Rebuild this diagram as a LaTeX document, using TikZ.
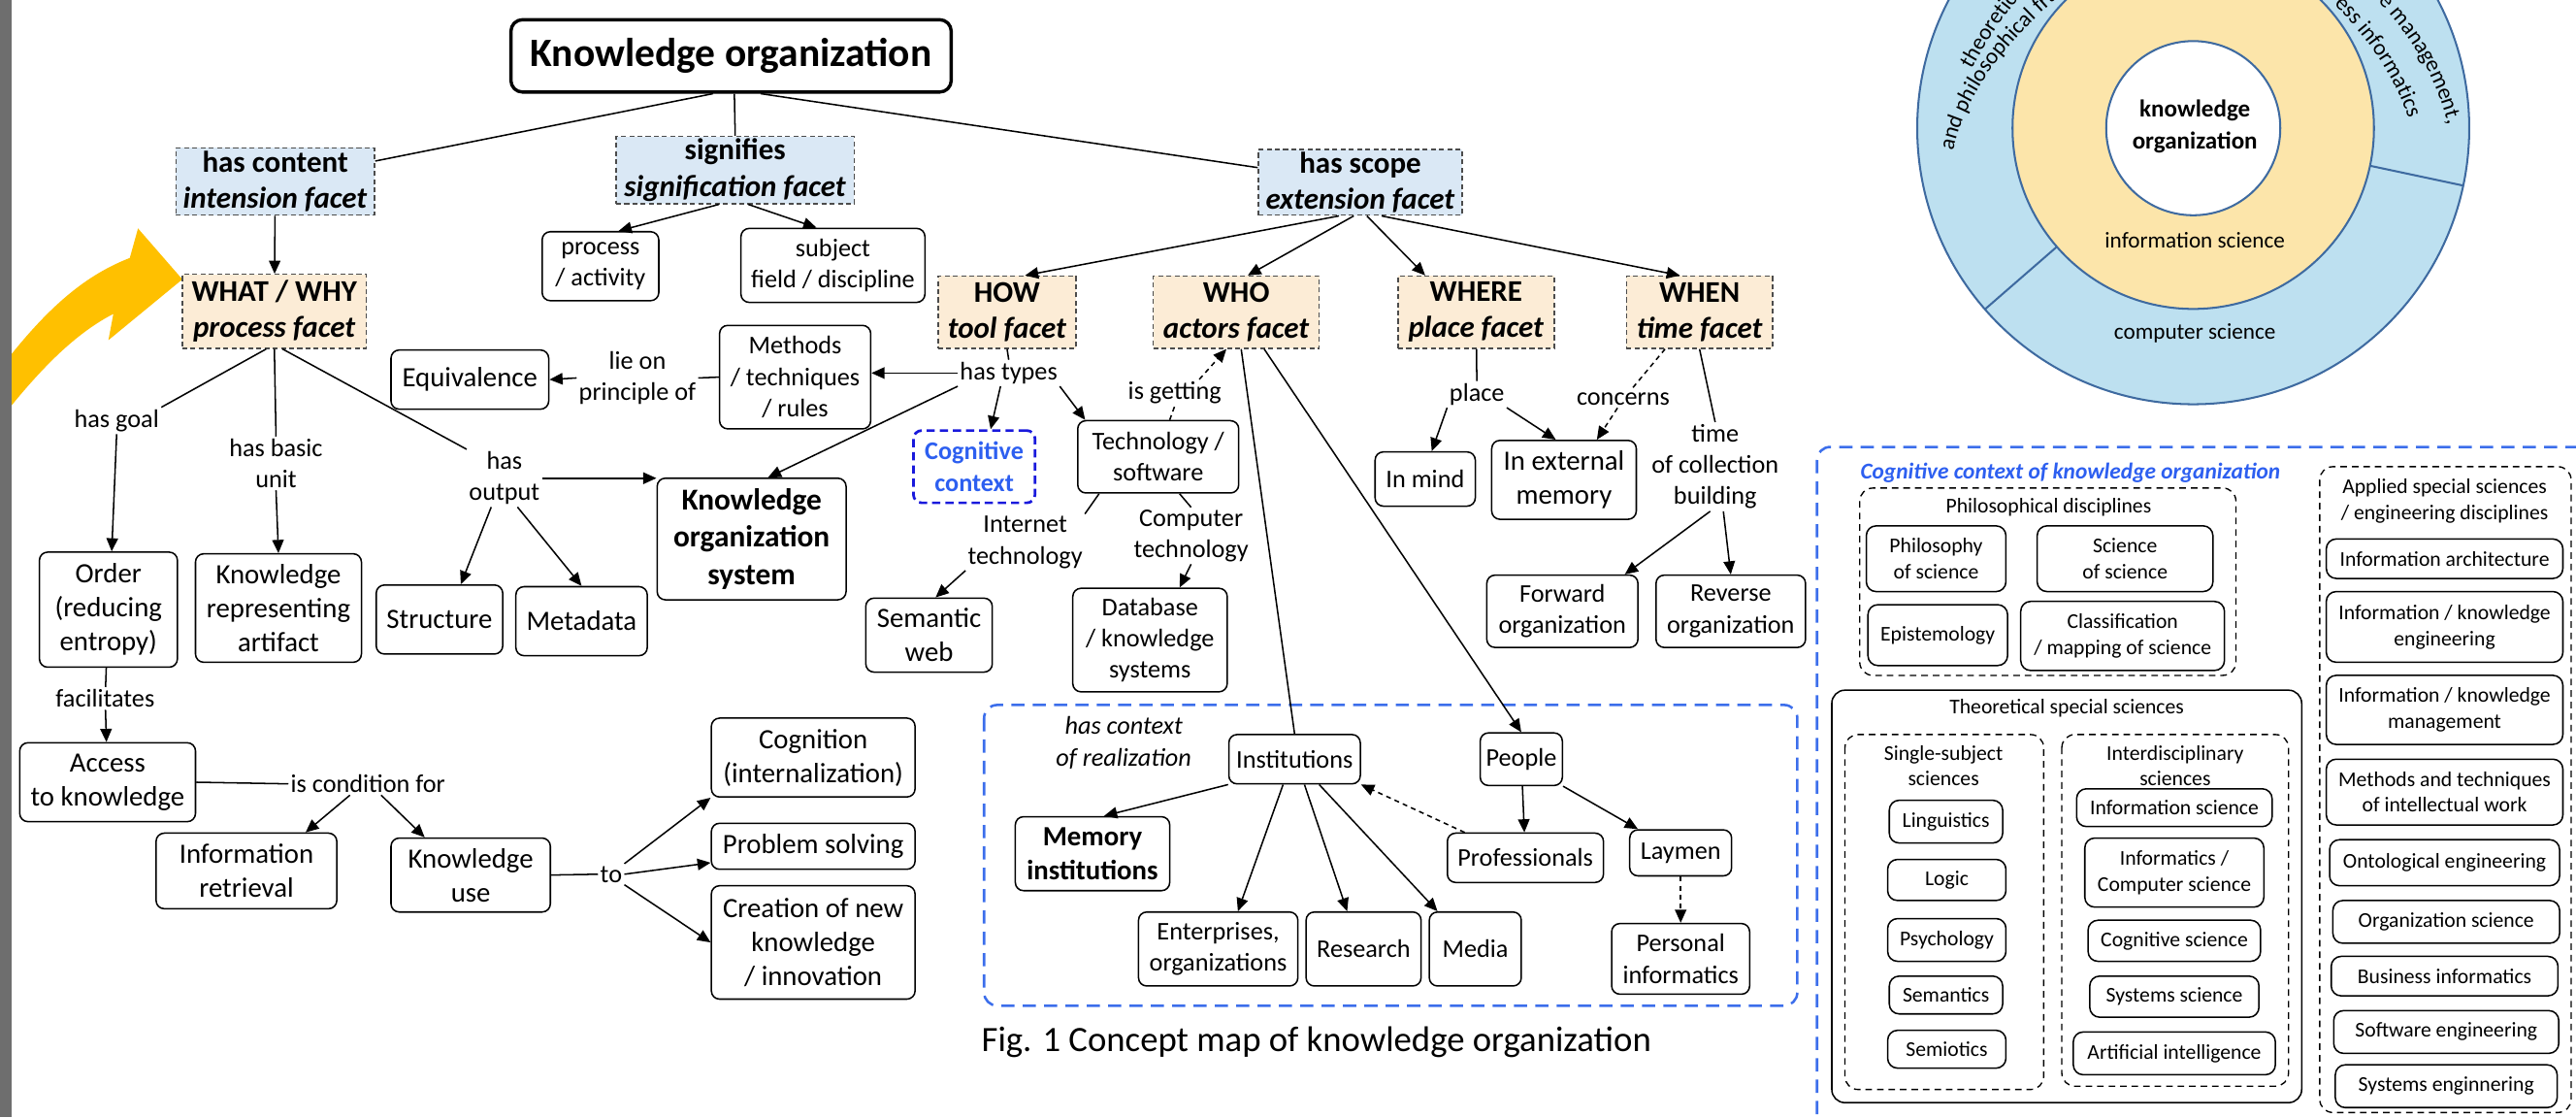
\documentclass[tikz,border=0pt]{standalone}
\usepackage{fontspec}
\setmainfont{Carlito}
\usetikzlibrary{arrows.meta,decorations.text}

\definecolor{facetblue}{RGB}{218,232,245}
\definecolor{facetorange}{RGB}{252,236,214}
\definecolor{ctxblue}{RGB}{60,110,235}
\definecolor{cogborder}{RGB}{25,25,220}
\definecolor{cogtext}{RGB}{45,95,240}
\definecolor{ringblue}{RGB}{189,224,240}
\definecolor{ringyellow}{RGB}{252,229,170}
\definecolor{ringedge}{RGB}{62,106,160}
\definecolor{arrowgold}{RGB}{255,192,0}
\definecolor{stripgray}{RGB}{110,110,110}

\newcommand{\fbody}{\fontsize{17}{20.7}\selectfont}
\newcommand{\fsmall}{\fontsize{15.5}{19}\selectfont}
\newcommand{\flab}{\fontsize{15.5}{19}\selectfont}
\newcommand{\ffacet}{\fontsize{18.3}{22}\selectfont}
\newcommand{\ftitle}{\fontsize{24.5}{29}\selectfont}
\newcommand{\fkos}{\fontsize{18.5}{22.6}\selectfont}
\newcommand{\fcap}{\fontsize{21.7}{26}\selectfont}
\newcommand{\fright}{\fontsize{12.8}{15.8}\selectfont}
\newcommand{\frtitle}{\fontsize{13.8}{16}\selectfont}
\newcommand{\fcirc}{\fontsize{14.8}{19.7}\selectfont}
\newcommand{\fring}{\fontsize{13.7}{16}\selectfont}

\tikzset{
  box/.style={draw, rounded corners=5pt, align=center, inner sep=1pt, font=\fsmall},
  facet/.style={draw=black!70, dash pattern=on 3pt off 2pt, line width=0.8pt, align=center, inner sep=0pt, font=\ffacet\bfseries},
  lab/.style={align=center, inner sep=1pt, font=\flab},
  wh/.style 2 args={minimum width=#1pt, minimum height=#2pt},
  bluedash/.style={draw=ctxblue, dash pattern=on 8pt off 5pt, line width=1.5pt, rounded corners=8pt},
  grpdash/.style={draw, dash pattern=on 4pt off 3pt, line width=0.8pt, rounded corners=8pt},
  rbox/.style={draw, rounded corners=6pt, align=center, inner sep=1pt, font=\fright},
  grplab/.style={align=center, inner sep=0pt, font=\fright},
  dashedarr/.style={->, dash pattern=on 3pt off 2.5pt}
}

\begin{document}
\begin{tikzpicture}[x=1pt, y=-1pt, line width=0.9pt, >={Triangle[length=8pt,width=7pt]}]
  \useasboundingbox (0,0) rectangle (1568,680);
  \clip (0,0) rectangle (1568,680);

  % pointer on the left edge
  \fill[arrowgold] (111,170) -- (84,139) -- (79,157) .. controls (45,170) and (18,198) .. (-15,245)
    -- (-15,275) .. controls (15,235) and (40,206) .. (69,191) -- (66,207) -- cycle;
  \fill[stripgray] (0,0) rectangle (7,680);

  % top level
  \node[box, wh={268}{44}, line width=2pt, rounded corners=7pt, font=\ftitle\bfseries] (ko) at (445,34) {Knowledge organization};
  \node[facet, fill=facetblue, wh={121}{41}] (content) at (167.5,110.5) {has content\\\textit{intension facet}};
  \node[facet, fill=facetblue, wh={145}{41}] (signif) at (447.5,103.5) {signifies\\\textit{signification facet}};
  \node[facet, fill=facetblue, wh={124}{40}] (scope) at (828,111) {has scope\\\textit{extension facet}};
  \node[box, wh={71}{42}] (process) at (365.5,162) {process\\/ activity};
  \node[box, wh={112}{45}] (subject) at (507,161.5) {subject\\field / discipline};
  \node[facet, fill=facetorange, wh={112}{45}] (what) at (167,189.5) {WHAT / WHY\\\textit{process facet}};
  \node[facet, fill=facetorange, wh={84}{44}] (how) at (613,190) {HOW\\\textit{tool facet}};
  \node[facet, fill=facetorange, wh={101}{44}] (who) at (752.5,190) {WHO\\\textit{actors facet}};
  \node[facet, fill=facetorange, wh={95}{44}] (where) at (898.5,190) {WHERE\\\textit{place facet}};
  \node[facet, fill=facetorange, wh={89}{44}] (when) at (1034.5,190) {WHEN\\\textit{time facet}};

  % process facet
  \node[box, wh={96}{36}, font=\fbody] (equiv) at (286,231) {Equivalence};
  \node[box, wh={92}{63}] (methods) at (484,229.5) {Methods\\/ techniques\\/ rules};
  \node[lab] (lieon) at (388,230) {lie on\\principle of};
  \node[lab] (goal) at (71,256) {has goal};
  \node[lab] (basic) at (168,282) {has basic\\unit};
  \node[lab] (output) at (307,291) {has\\output};
  \node[box, wh={84}{70}, font=\fbody] (order) at (66,371) {Order\\(reducing\\entropy)};
  \node[box, wh={101}{66}, font=\fbody] (artifact) at (169.5,370) {Knowledge\\representing\\artifact};
  \node[box, wh={77}{42}, font=\fbody] (structure) at (267.5,377) {Structure};
  \node[box, wh={80}{42}, font=\fbody] (metadata) at (354,378) {Metadata};
  \node[box, wh={115}{74}, font=\fkos\bfseries] (kos) at (457.5,328) {Knowledge\\organization\\system};
  \node[lab] (facil) at (64,425) {facilitates};
  \node[box, wh={107}{48}, font=\fbody] (access) at (65.5,476) {Access\\to knowledge};
  \node[lab] (cond) at (224,477) {is condition for};
  \node[box, wh={110}{46}, font=\fbody] (retrieval) at (150,530) {Information\\retrieval};
  \node[box, wh={97}{45}, font=\fbody] (use) at (286.5,532.5) {Knowledge\\use};
  \node[lab] (to) at (372,532) {to};
  \node[box, wh={124}{48}, font=\fbody] (cognition) at (495,461) {Cognition\\(internalization)};
  \node[box, wh={124}{28}, font=\fbody] (problem) at (495,515) {Problem solving};
  \node[box, wh={124}{69}, font=\fbody] (creation) at (495,573.5) {Creation of new\\knowledge\\/ innovation};

  % tool, place and time facets
  \node[lab] (types) at (614,227) {has types};
  \node[box, wh={74}{44}, draw=cogborder, text=cogtext, dash pattern=on 5pt off 3pt, line width=1.6pt, font=\fsmall\bfseries] (cogctx) at (593,284) {Cognitive\\context};
  \node[box, wh={98}{44}] (tech) at (705,278) {Technology /\\software};
  \node[lab] (getting) at (715,239) {is getting};
  \node[lab] (internet) at (624,330) {Internet\\technology};
  \node[lab] (computer) at (725,326) {Computer\\technology};
  \node[box, wh={77}{45}, font=\fbody] (semweb) at (565.5,386.5) {Semantic\\web};
  \node[box, wh={94}{63}] (database) at (700,389.5) {Database\\/ knowledge\\systems};
  \node[lab] (place) at (899,240) {place};
  \node[lab] (concerns) at (988,243) {concerns};
  \node[lab] (timelab) at (1044,284) {time\\of collection\\building};
  \node[box, wh={61}{33}] (mind) at (867.5,291.5) {In mind};
  \node[box, wh={88}{48}, font=\fbody] (external) at (952,292) {In external\\memory};
  \node[box, wh={92}{44}] (forward) at (951,372) {Forward\\organization};
  \node[box, wh={91}{44}] (reverse) at (1053.5,372) {Reverse\\organization};

  % actors in their context
  \draw[bluedash] (599,429) rectangle (1094,612);
  \node[lab, font=\flab\itshape] (realization) at (684,452) {has context\\of realization};
  \node[box, wh={80}{30}] (inst) at (788,462) {Institutions};
  \node[box, wh={50}{32}] (people) at (926,462) {People};
  \node[box, wh={94}{45}, font=\fbody\bfseries] (memory) at (665,519.5) {Memory\\institutions};
  \node[box, wh={97}{45}] (enterprises) at (741.5,577.5) {Enterprises,\\organizations};
  \node[box, wh={70}{45}] (research) at (830,577.5) {Research};
  \node[box, wh={56}{45}] (media) at (898,577.5) {Media};
  \node[box, wh={95}{30}] (professionals) at (928.5,522) {Professionals};
  \node[box, wh={62}{28}] (laymen) at (1023,519) {Laymen};
  \node[box, wh={84}{43}] (personal) at (1023,583.5) {Personal\\informatics};
  \node[anchor=west, inner sep=0pt, font=\fcap] (caption) at (597,634) {Fig. 1 Concept map of knowledge organization};

  % connectors
  \draw ([xshift=-11pt]ko.south) -- ([yshift=12.5pt]content.east);
  \draw ([xshift=2pt]ko.south) -- (signif.north);
  \draw ([xshift=18pt]ko.south) -- ([yshift=9pt]scope.west);
  \draw[->] ([xshift=-10pt]signif.south) -- ([xshift=11pt]process.north);
  \draw[->] ([xshift=8pt]signif.south) -- ([xshift=-10pt]subject.north);
  \draw[->] (content) -- (what);
  \draw[->] ([xshift=-13pt]scope.south) -- ([xshift=11pt]how.north);
  \draw[->] ([xshift=-4pt]scope.south) -- ([xshift=7pt]who.north);
  \draw[->] ([xshift=4pt]scope.south) -- ([xshift=-31pt]where.north);
  \draw[->] ([xshift=13pt]scope.south) -- ([xshift=-12pt]when.north);

  \draw ([xshift=-5pt]what.south) -- (goal.north east);
  \draw[->] (goal.south) -- ([xshift=2pt]order.north);
  \draw (what.south) -- (basic.north);
  \draw[->] (basic.south) -- (artifact.north);
  \draw ([xshift=5pt]what.south) -- (output.north west);
  \draw[->] (output.east) -- (output.east -| kos.west);
  \draw[->] ([xshift=-8pt]output.south) -- ([xshift=13pt]structure.north);
  \draw[->] ([xshift=8pt]output.south) -- (metadata.north);
  \draw (order) -- (facil);
  \draw[->] (facil) -- (access);
  \draw (access.east) -- (cond.west);
  \draw[->] ([xshift=-11pt]cond.south) -- ([xshift=36pt]retrieval.north);
  \draw[->] ([xshift=8pt]cond.south) -- ([xshift=-28pt]use.north);
  \draw (use.east) -- (to.west);
  \draw[->] (to.north east) -- (cognition.south west);
  \draw[->] (to.east) -- ([yshift=-10pt]problem.west);
  \draw[->] (to.south east) -- (creation.west);

  \draw (methods.west) -- (lieon.east);
  \draw[->] (lieon.west) -- (equiv.east);
  \draw (how.south) -- (types.north);
  \draw[->] (types.west) -- (types.west -| methods.east);
  \draw[->] (types.south west) -- ([xshift=10pt]kos.north);
  \draw[->] ([xshift=-5pt]types.south) -- ([xshift=10pt]cogctx.north);
  \draw[->] (types.south east) -- ([xshift=5pt]tech.north west);
  \draw[dash pattern=on 3pt off 2.5pt] ([xshift=7pt]tech.north) -- (getting.south);
  \draw[dashedarr] ([xshift=15pt]getting.north) -- ([xshift=-6pt]who.south);
  \draw ([xshift=-36pt]tech.south) -- (internet.north east);
  \draw[->] (internet.south west) -- ([xshift=4pt]semweb.north);
  \draw ([xshift=13pt]tech.south) -- (computer.north);
  \draw[->] (computer.south) -- ([xshift=18pt]database.north);
  \draw ([xshift=3pt]who.south) -- (inst.north);
  \draw[->] ([xshift=17pt]who.south) -- (people.north);
  \draw (where) -- (place);
  \draw[->] (place.south west) -- ([xshift=4pt]mind.north);
  \draw[->] (place.south east) -- ([xshift=-5pt]external.north);
  \draw[dash pattern=on 3pt off 2.5pt] ([xshift=-21pt]when.south) -- (concerns);
  \draw[dashedarr] (concerns) -- ([xshift=20pt]external.north);
  \draw (when.south) -- (timelab.north);
  \draw[->] ([xshift=-3pt]timelab.south) -- ([xshift=38pt]forward.north);
  \draw[->] ([xshift=5pt]timelab.south) -- (reverse.north);

  \draw[->] (inst.south west) -- ([xshift=7pt]memory.north);
  \draw[->] ([xshift=-7pt]inst.south) -- ([xshift=12pt]enterprises.north);
  \draw[->] ([xshift=6pt]inst.south) -- ([xshift=-10pt]research.north);
  \draw[->] ([xshift=15pt]inst.south) -- ([xshift=-23pt]media.north);
  \draw[dashedarr] ([xshift=-37pt]professionals.north) -- (inst.south east);
  \draw[->] (people) -- (professionals);
  \draw[->] (people.south east) -- ([xshift=-26pt]laymen.north);
  \draw[dashedarr] (laymen) -- (personal);

  % rings
  \begin{scope}[shift={(1335,78)}, y=1pt, ringedge, line width=1.2pt]
    \draw[fill=ringblue] (0,0) circle[radius=168];
    \draw (-12:110) -- (-12:168);
    \draw (221:110) -- (221:168);
    \draw[fill=ringyellow] (0,0) circle[radius=110];
    \draw[fill=white] (0,0) circle[radius=53];
  \end{scope}
  \node[font=\fcirc\bfseries, align=center, inner sep=0pt] (kocore) at (1336,77) {knowledge\\organization};
  \node[font=\fring, inner sep=0pt] (infosci) at (1336,146) {information science};
  \node[font=\fring, inner sep=0pt] (compsci) at (1336,203) {computer science};
  \path[decorate, decoration={text along path, text={|\fring|theoretic}, text align=left}]
    (1200,42) .. controls (1208,28) and (1218,10) .. (1240,-14);
  \path[decorate, decoration={text along path, text={|\fring|and philosophical fra}, text align=left}]
    (1189,92) .. controls (1195,60) and (1220,25) .. (1258,-6);
  \path[decorate, decoration={text along path, text={|\fring|e management,}, text align=right}]
    (1425,-20) .. controls (1455,5) and (1480,35) .. (1490,76);
  \path[decorate, decoration={text along path, text={|\fring|ess informatics}, text align=right}]
    (1390,-25) .. controls (1420,0) and (1452,30) .. (1466,72);

  % cognitive context panel
  \draw[bluedash] (1106,272) rectangle (1640,720);
  \node[anchor=west, inner sep=0pt, text=cogtext, font=\frtitle\bfseries\itshape] (cogtitle) at (1132,288) {Cognitive context of knowledge organization};
  \draw[grpdash] (1132,297) rectangle (1361,411);
  \node[grplab] (phillab) at (1247,309) {Philosophical disciplines};
  \node[rbox, wh={85}{40}] (philsci) at (1178.5,340) {Philosophy\\of science};
  \node[rbox, wh={107}{40}] (scisci) at (1293.5,340) {Science\\of science};
  \node[rbox, wh={85}{37}] (episte) at (1179.5,386.5) {Epistemology};
  \node[rbox, wh={124}{42}] (classif) at (1292,387) {Classification\\/ mapping of science};
  \draw[rounded corners=8pt] (1115,420) rectangle (1401,671);
  \node[grplab] (theolab) at (1258,431) {Theoretical special sciences};
  \draw[grpdash] (1123,447) rectangle (1244,663);
  \node[grplab] (singlelab) at (1183,466) {Single-subject\\sciences};
  \node[rbox, wh={69}{26}] (ling) at (1184.5,500) {Linguistics};
  \node[rbox, wh={72}{25}] (logic) at (1185,535.5) {Logic};
  \node[rbox, wh={72}{26}] (psych) at (1185,572) {Psychology};
  \node[rbox, wh={69}{23}] (seman) at (1184.5,605.5) {Semantics};
  \node[rbox, wh={72}{23}] (semio) at (1185,638.5) {Semiotics};
  \draw[grpdash] (1255,447) rectangle (1393,661);
  \node[grplab] (interlab) at (1324,466) {Interdisciplinary\\sciences};
  \node[rbox, wh={119}{23}] (infsci) at (1323.5,491.5) {Information science};
  \node[rbox, wh={109}{42}] (infcs) at (1323.5,531) {Informatics /\\Computer science};
  \node[rbox, wh={105}{25}] (cogsci) at (1323.5,572.5) {Cognitive science};
  \node[rbox, wh={103}{25}] (syssci) at (1323.5,606.5) {Systems science};
  \node[rbox, wh={123}{26}] (ai) at (1323.5,641) {Artificial intelligence};
  \draw[grpdash] (1412,284) rectangle (1565,677);
  \node[grplab] (appliedlab) at (1488,305) {Applied special sciences\\/ engineering disciplines};
  \node[rbox, wh={144}{24}] (infarch) at (1488,340) {Information architecture};
  \node[rbox, wh={144}{43}] (infke) at (1488,381.5) {Information / knowledge\\engineering};
  \node[rbox, wh={144}{42}] (infkm) at (1488,432) {Information / knowledge\\management};
  \node[rbox, wh={144}{40}] (methtech) at (1488,482) {Methods and techniques\\of intellectual work};
  \node[rbox, wh={140}{28}] (onto) at (1488,525) {Ontological engineering};
  \node[rbox, wh={138}{26}] (orgsci) at (1489,561) {Organization science};
  \node[rbox, wh={138}{24}] (businf) at (1488,594) {Business informatics};
  \node[rbox, wh={137}{26}] (softeng) at (1489,628) {Software engineering};
  \node[rbox, wh={135}{26}] (syseng) at (1489,661) {Systems enginnering};
\end{tikzpicture}
\end{document}
